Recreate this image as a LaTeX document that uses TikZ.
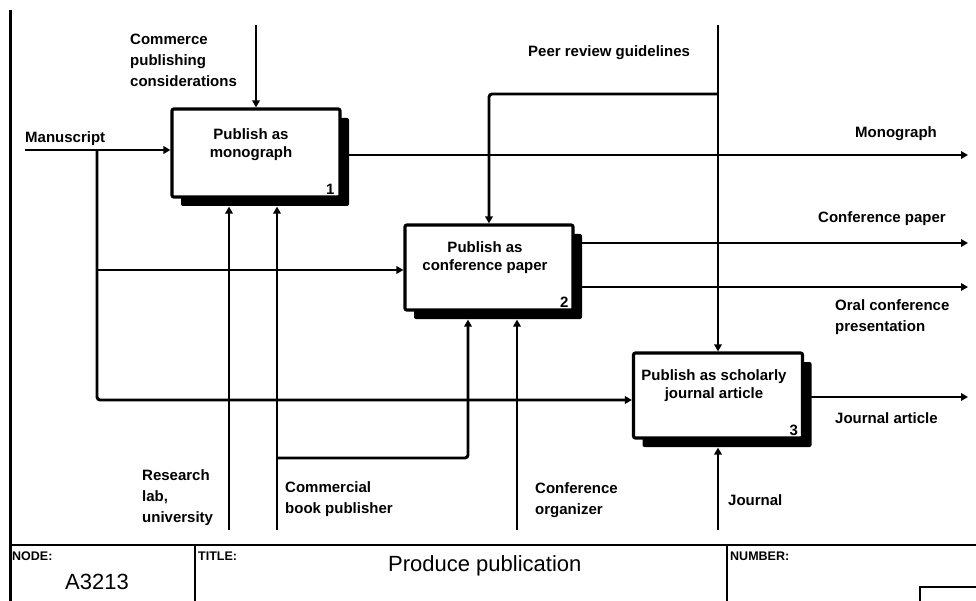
\documentclass[tikz,border=0pt]{standalone}
\usepackage{fontspec}
\setmainfont{Liberation Sans}
\usetikzlibrary{arrows.meta,shadows,calc}
\begin{document}
\begin{tikzpicture}[x=1pt,y=-1pt,
  wire/.style={line width=2.9pt},
  arr/.style={wire,-{Triangle[length=7pt,width=7.5pt]}},
  lab/.style={font=\fontsize{15}{21}\selectfont\bfseries,inner sep=0pt,align=left},
  boxtext/.style={font=\fontsize{15}{18}\selectfont\bfseries,inner sep=0pt,align=center},
  numtext/.style={font=\fontsize{15}{18}\selectfont\bfseries,inner sep=0pt,anchor=base east},
  procbox/.style={draw,line width=3.2pt,fill=white,rounded corners=2pt,inner sep=0pt,
     drop shadow={shadow xshift=9pt,shadow yshift=-9pt,fill=black,opacity=1}},
  frame/.style={line width=2.6pt},
  hdr/.style={font=\fontsize{12.5}{14}\selectfont\bfseries,inner sep=0pt,anchor=base west},
  big/.style={font=\fontsize{22}{26}\selectfont,inner sep=0pt,anchor=base west}
]
\useasboundingbox (0,0) rectangle (976,601);

% process boxes
\node[procbox,minimum width=168pt,minimum height=88pt] (b1) at (256,153) {};
\node[procbox,minimum width=168pt,minimum height=85pt] (b2) at (489,267.5) {};
\node[procbox,minimum width=169pt,minimum height=85pt] (b3) at (718,395.5) {};

\node[boxtext] (t1) at (251,145) {Publish as\\monograph};
\node[boxtext] (t2) at (485,258) {Publish as\\conference paper};
\node[boxtext] (t3) at (714,386) {Publish as scholarly\\journal article};

\node[numtext] (n1) at ($(b1.south east)+(-7,-4)$) {1};
\node[numtext] (n2) at ($(b2.south east)+(-6,-4)$) {2};
\node[numtext] (n3) at ($(b3.south east)+(-6,-4)$) {3};

% connector ends
\coordinate (cc) at (256,25);
\coordinate (ms) at (25,150);
\coordinate (mj) at (97,150);
\coordinate (mj2) at (97,270);
\coordinate (mj3) at (97,400);
\coordinate (pr) at (718,25);
\coordinate (prj) at (718,94);
\coordinate (om) at (968,155);
\coordinate (ocp) at (968,243);
\coordinate (oor) at (968,287);
\coordinate (oja) at (968,397);
\coordinate (mr) at (229,530);
\coordinate (mcb) at (277,530);
\coordinate (mcbj) at (277,458);
\coordinate (mcb2) at (468,458);
\coordinate (mco) at (517,530);
\coordinate (mjr) at (718,530);
\coordinate (s1) at ($(b1.south)+(0,8)$);
\coordinate (s2) at ($(b2.south)+(0,8)$);
\coordinate (s3) at ($(b3.south)+(0,8)$);

% controls
\draw[arr] (cc) -- (b1.north);
\draw[arr] (pr) -- (b3.north);
\draw[arr,rounded corners=3pt] (prj) -- (prj -| b2.north) -- (b2.north);
% inputs
\draw[arr] (ms) -- (ms -| b1.west);
\draw[arr] (mj2) -- (mj2 -| b2.west);
\draw[arr,rounded corners=3pt] (mj) -- (mj3) -- (mj3 -| b3.west);
% outputs
\draw[arr] (b1.east |- om) -- (om);
\draw[arr] (b2.east |- ocp) -- (ocp);
\draw[arr] (b2.east |- oor) -- (oor);
\draw[arr] (b3.east |- oja) -- (oja);
% mechanisms
\draw[arr] (mr) -- (mr |- s1);
\draw[arr] (mcb) -- (mcb |- s1);
\draw[arr,rounded corners=3pt] (mcbj) -- (mcb2) -- (mcb2 |- s2);
\draw[arr] (mco) -- (mco |- s2);
\draw[arr] (mjr) -- (s3);

% labels
\node[lab,anchor=base west] (lman) at (25,143) {Manuscript};
\node[lab,anchor=north west] (lcom) at (130,34) {Commerce\\publishing\\considerations};
\node[lab,anchor=base west] (lpeer) at (528,57) {Peer review guidelines};
\node[lab,anchor=base west] (lmono) at (855,138) {Monograph};
\node[lab,anchor=base west] (lcp) at (818,223) {Conference paper};
\node[lab,anchor=north west] (loral) at (835,299) {Oral conference\\presentation};
\node[lab,anchor=base west] (lja) at (835,423) {Journal article};
\node[lab,anchor=north west] (lres) at (142,469) {Research\\lab,\\university};
\node[lab,anchor=north west] (lcbp) at (285,481) {Commercial\\book publisher};
\node[lab,anchor=north west] (lco) at (535,482) {Conference\\organizer};
\node[lab,anchor=base west] (ljr) at (728,505) {Journal};

% frame
\draw[line width=3pt] (10,10) -- (10,601);
\draw[frame] (10,545) -- (976,545);
\draw[frame] (195,545) -- (195,601);
\draw[frame] (727,545) -- (727,601);
\draw[frame] (920,601) -- (920,587) -- (976,587);

\node[hdr] (hnode) at (12,560) {NODE:};
\node[hdr] (htitle) at (198,560) {TITLE:};
\node[hdr] (hnum) at (730,560) {NUMBER:};
\node[big] (nodeid) at (65,589) {A3213};
\node[big] (title) at (388,571) {Produce publication};
\end{tikzpicture}
\end{document}
